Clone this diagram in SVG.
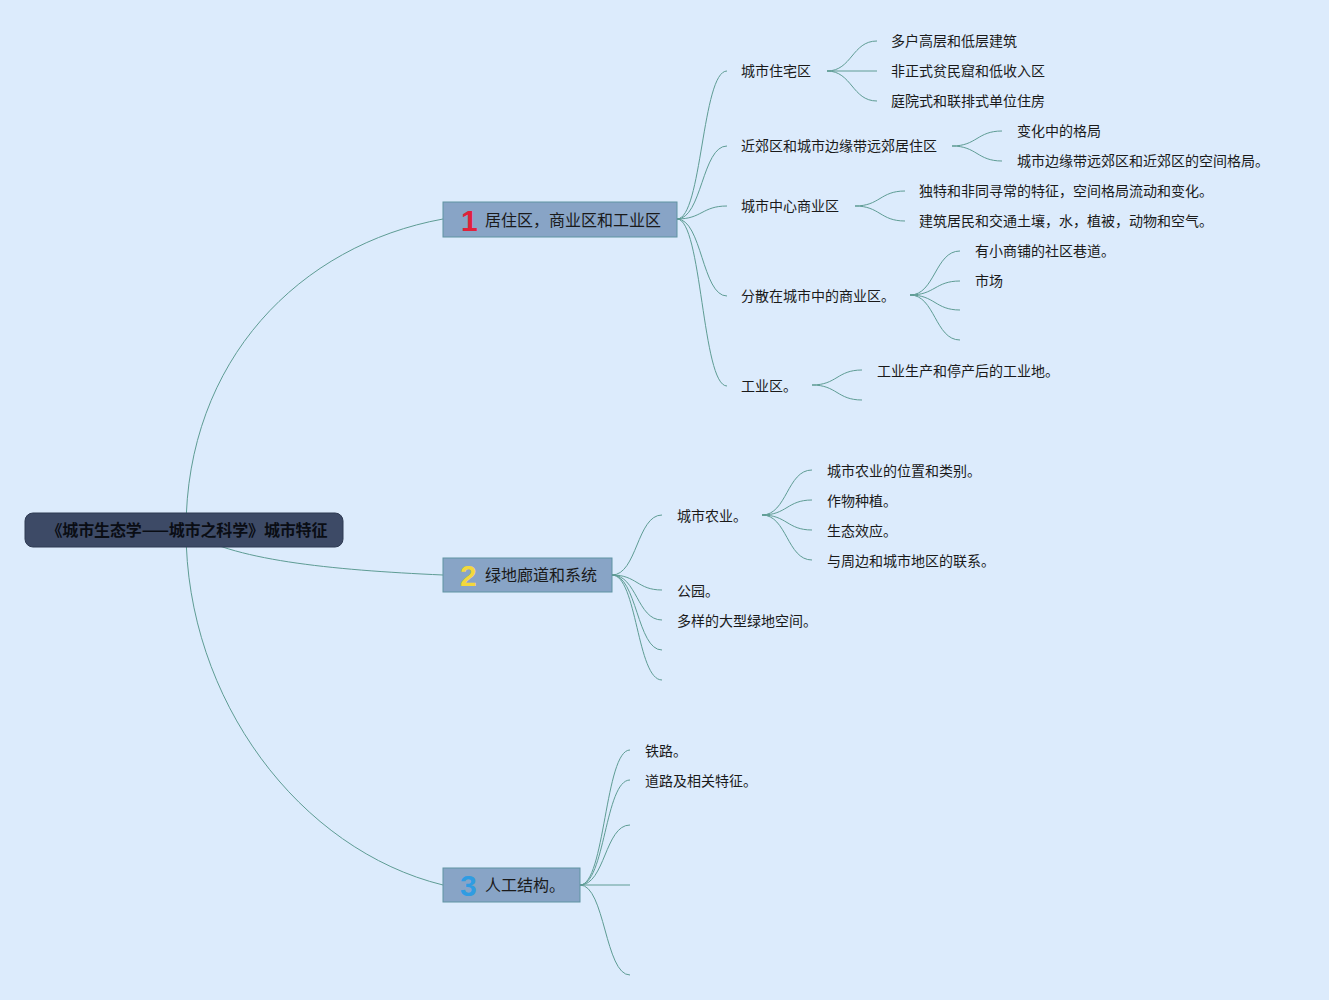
<svg xmlns="http://www.w3.org/2000/svg" width="1329" height="1000" viewBox="0 0 1329 1000">
<style>
.bg{fill:#dcebfc}
.c{fill:none;stroke:#5e9c94;stroke-width:1}
.root{fill:#3d4a66;stroke:#2e3a52;stroke-width:1}
.rt{font-family:"Noto Sans CJK SC",sans-serif;font-size:16px;font-weight:bold;fill:#0a0d14}
.main{fill:#88a4c6;stroke:#5f94a2;stroke-width:1}
.mt{font-family:"Noto Sans CJK SC",sans-serif;font-size:16px;fill:#1a1a1a}
.num{font-family:"Liberation Sans",sans-serif;font-size:30px;font-weight:bold}
.t{font-family:"Noto Sans CJK SC",sans-serif;font-size:14px;fill:#1a1a1a}
</style>
<rect class="bg" x="0" y="0" width="1329" height="1000"/>
<g id="connectors">
<path class="c" d="M186,530 C186,360 300,245 443,219"/>
<path class="c" d="M186,530 C230,560 330,570 443,575"/>
<path class="c" d="M186,530 C186,700 300,850 443,885"/>
<path class="c" d="M677,219 C702,219 702,71 727,71"/>
<path class="c" d="M677,219 C702,219 702,146 727,146"/>
<path class="c" d="M677,219 C702,219 702,206 727,206"/>
<path class="c" d="M677,219 C702,219 702,296 727,296"/>
<path class="c" d="M677,219 C702,219 702,386 727,386"/>
<path class="c" d="M827,71 C852,71 852,41 877,41"/>
<path class="c" d="M827,71 L877,71"/>
<path class="c" d="M827,71 C852,71 852,101 877,101"/>
<path class="c" d="M952,146 C977,146 977,131 1002,131"/>
<path class="c" d="M952,146 C977,146 977,161 1002,161"/>
<path class="c" d="M855,206 C880,206 880,191 905,191"/>
<path class="c" d="M855,206 C880,206 880,221 905,221"/>
<path class="c" d="M910,295 C935,295 935,251 960,251"/>
<path class="c" d="M910,295 C935,295 935,281 960,281"/>
<path class="c" d="M910,295 C935,295 935,310 960,310"/>
<path class="c" d="M910,295 C935,295 935,340 960,340"/>
<path class="c" d="M812,385 C837,385 837,370 862,370"/>
<path class="c" d="M812,385 C837,385 837,400 862,400"/>
<path class="c" d="M612,575 C637,575 637,515 662,515"/>
<path class="c" d="M612,575 C637,575 637,590 662,590"/>
<path class="c" d="M612,575 C637,575 637,620 662,620"/>
<path class="c" d="M612,575 C637,575 637,650 662,650"/>
<path class="c" d="M612,575 C637,575 637,680 662,680"/>
<path class="c" d="M762,515 C787,515 787,470 812,470"/>
<path class="c" d="M762,515 C787,515 787,500 812,500"/>
<path class="c" d="M762,515 C787,515 787,530 812,530"/>
<path class="c" d="M762,515 C787,515 787,560 812,560"/>
<path class="c" d="M580,885 C605,885 605,750 630,750"/>
<path class="c" d="M580,885 C605,885 605,780 630,780"/>
<path class="c" d="M580,885 C605,885 605,825 630,825"/>
<path class="c" d="M580,885 L630,885"/>
<path class="c" d="M580,885 C605,885 605,975 630,975"/>
</g>
<g id="root">
<rect class="root" x="25" y="513" width="318" height="34" rx="8"/>
<text class="rt" x="187" y="536" text-anchor="middle" textLength="281" lengthAdjust="spacing">《城市生态学——城市之科学》城市特征</text>
</g>
<g id="n1">
<rect class="main" x="443" y="202" width="234" height="35"/>
<text class="num" x="461" y="231" fill="#e0213a">1</text>
<text class="mt" x="485" y="226">居住区，商业区和工业区</text>
</g>
<g id="n2">
<rect class="main" x="443" y="558" width="169" height="34"/>
<text class="num" x="460" y="586" fill="#f3d83c">2</text>
<text class="mt" x="485" y="581">绿地廊道和系统</text>
</g>
<g id="n3">
<rect class="main" x="443" y="868" width="137" height="34"/>
<text class="num" x="460" y="896" fill="#2f9ce2">3</text>
<text class="mt" x="485" y="891">人工结构。</text>
</g>
<g id="n1-1"><text class="t" x="741" y="76">城市住宅区</text></g>
<g id="n1-1-1"><text class="t" x="891" y="46">多户高层和低层建筑</text></g>
<g id="n1-1-2"><text class="t" x="891" y="76">非正式贫民窟和低收入区</text></g>
<g id="n1-1-3"><text class="t" x="891" y="106">庭院式和联排式单位住房</text></g>
<g id="n1-2"><text class="t" x="741" y="151">近郊区和城市边缘带远郊居住区</text></g>
<g id="n1-2-1"><text class="t" x="1017" y="136">变化中的格局</text></g>
<g id="n1-2-2"><text class="t" x="1017" y="166">城市边缘带远郊区和近郊区的空间格局。</text></g>
<g id="n1-3"><text class="t" x="741" y="211">城市中心商业区</text></g>
<g id="n1-3-1"><text class="t" x="919" y="196">独特和非同寻常的特征，空间格局流动和变化。</text></g>
<g id="n1-3-2"><text class="t" x="919" y="226">建筑居民和交通土壤，水，植被，动物和空气。</text></g>
<g id="n1-4"><text class="t" x="741" y="301">分散在城市中的商业区。</text></g>
<g id="n1-4-1"><text class="t" x="975" y="256">有小商铺的社区巷道。</text></g>
<g id="n1-4-2"><text class="t" x="975" y="286">市场</text></g>
<g id="n1-5"><text class="t" x="741" y="391">工业区。</text></g>
<g id="n1-5-1"><text class="t" x="877" y="376">工业生产和停产后的工业地。</text></g>
<g id="n2-1"><text class="t" x="677" y="521">城市农业。</text></g>
<g id="n2-1-1"><text class="t" x="827" y="476">城市农业的位置和类别。</text></g>
<g id="n2-1-2"><text class="t" x="827" y="506">作物种植。</text></g>
<g id="n2-1-3"><text class="t" x="827" y="536">生态效应。</text></g>
<g id="n2-1-4"><text class="t" x="827" y="566">与周边和城市地区的联系。</text></g>
<g id="n2-2"><text class="t" x="677" y="596">公园。</text></g>
<g id="n2-3"><text class="t" x="677" y="626">多样的大型绿地空间。</text></g>
<g id="n3-1"><text class="t" x="645" y="756">铁路。</text></g>
<g id="n3-2"><text class="t" x="645" y="786">道路及相关特征。</text></g>
</svg>
